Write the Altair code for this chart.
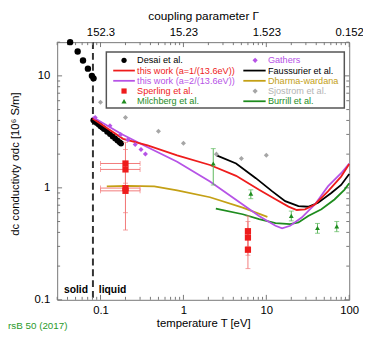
import altair as alt
import pandas as pd
import numpy as np

W, H = 297, 262
TMIN, TMAX = 0.03, 100.0
SMIN, SMAX = 0.1, 20.0
T_MELT = 0.081

# ---------------- data ----------------
desai_T = [0.043, 0.053, 0.0615, 0.0705, 0.0787, 0.0824]
desai_s = [20.0, 16.5, 13.7, 11.6, 10.0, 9.5]
desai_liq_T = [0.082, 0.085, 0.09, 0.095, 0.10, 0.105, 0.11, 0.12, 0.13, 0.14, 0.15, 0.16, 0.17, 0.177]
desai_liq_s = [4.02, 3.93, 3.80, 3.67, 3.55, 3.45, 3.35, 3.17, 3.02, 2.88, 2.76, 2.65, 2.55, 2.49]

gathers_T = [0.0863, 0.130, 0.175, 0.214, 0.262, 0.308, 0.348]
gathers_s = [4.25, 3.58, 2.99, 2.69, 2.44, 2.20, 2.01]

sjostrom_T = [0.1, 0.2, 0.5, 1.0, 2.5, 5.0, 10.0]
sjostrom_s = [5.8, 4.25, 3.2, 2.5, 2.0, 1.83, 1.95]

work1_T = [0.0802, 0.187, 0.370, 0.840, 2.09, 4.32, 8.17, 12.9, 18.5, 23.3, 29.3, 38.5, 55.3, 79.8, 100.0]
work1_s = [4.17, 2.74, 2.39, 1.95, 1.60, 1.28, 0.96, 0.79, 0.68, 0.634, 0.643, 0.711, 0.93, 1.26, 1.63]

work2_T = [0.0802, 0.179, 0.370, 0.840, 2.09, 5.19, 8.17, 12.9, 15.5, 19.4, 26.7, 38.5, 55.3, 79.8, 100.0]
work2_s = [4.30, 3.02, 2.30, 1.71, 1.14, 0.711, 0.561, 0.458, 0.435, 0.458, 0.543, 0.711, 1.03, 1.35, 1.65]

fauss_T = [2.51, 4.32, 7.47, 11.8, 16.9, 24.4, 32.0, 42.1, 60.7, 79.8, 100.0]
fauss_s = [1.95, 1.65, 1.22, 0.93, 0.76, 0.687, 0.678, 0.736, 0.90, 1.06, 1.33]

dharma_T = [0.119, 0.214, 0.445, 0.840, 2.09, 5.19, 10.3]
dharma_s = [1.03, 1.04, 1.03, 0.948, 0.824, 0.665, 0.550]

burrill_T = [2.46, 5.19, 8.17, 12.9, 19.4, 24.4, 32.0, 46.2, 66.4, 87.3, 100.0]
burrill_s = [0.652, 0.581, 0.525, 0.484, 0.474, 0.491, 0.561, 0.643, 0.787, 0.96, 1.10]

milch_T = [2.29, 6.5, 20.0, 41.4, 70.7]
milch_s = [1.65, 0.887, 0.561, 0.438, 0.453]
milch_lo = [1.06, 0.80, 0.507, 0.393, 0.406]
milch_hi = [2.24, 0.96, 0.62, 0.481, 0.501]

sperl_T = [0.2, 0.2, 0.2, 0.2, 6.0, 6.0, 6.0]
sperl_s = [1.65, 1.46, 0.995, 0.94, 0.41, 0.36, 0.28]
sperl_lo = [1.1, 0.95, 0.6, 0.42, 0.30, 0.25, 0.19]
sperl_hi = [2.55, 2.2, 1.5, 1.45, 0.56, 0.50, 0.40]
sperl_Tlo = [0.1, 0.1, 0.1, 0.1, 6.0, 6.0, 6.0]
sperl_Thi = [0.3, 0.3, 0.3, 0.3, 6.0, 6.0, 6.0]

x_major = [0.1, 1, 10, 100]
x_labels = ["0.1", "1", "10", "100"]
gamma_labels = ["152.3", "15.23", "1.523", "0.152"]
x_minor = [0.03, 0.04, 0.05, 0.06, 0.07, 0.08, 0.09,
           0.2, 0.3, 0.4, 0.5, 0.6, 0.7, 0.8, 0.9,
           2, 3, 4, 5, 6, 7, 8, 9,
           20, 30, 40, 50, 60, 70, 80, 90]
y_major = [0.1, 1, 10]
y_labels = ["0.1", "1", "10"]
y_minor = [0.2, 0.3, 0.4, 0.5, 0.6, 0.7, 0.8, 0.9,
           2, 3, 4, 5, 6, 7, 8, 9, 20]
y_title = "dc conductivty σdc [10⁶ S/m]"

leg_labels = ["Desai et al.", "this work (a=1/(13.6eV))", "this work (a=2/(13.6eV))",
              "Sperling et al.", "Milchberg et al.",
              "Gathers", "Faussurier et al.", "Dharma-wardana", "Sjostrom et al.", "Burrill et al."]
leg_kind = ["circle", "line", "line", "square", "triangle-up",
            "diamond", "line", "line", "diamond", "line"]

RED = "#ee1c1c"
PURPLE = "#b653e6"
GOLD = "#c4a015"
GRAY = "#a6a6a6"
GREEN = "#1e8c1e"
BLACK = "#000000"
leg_color = [BLACK, RED, PURPLE, RED, GREEN, PURPLE, BLACK, GOLD, GRAY, GREEN]
leg_tcolor = [BLACK, RED, PURPLE, RED, GREEN, PURPLE, BLACK, GOLD, "#b4b4b4", GREEN]

FONT = "Liberation Sans"

# ---------------- helpers ----------------
LX = np.log10(TMAX / TMIN)
LY = np.log10(SMAX / SMIN)


def px2T(px):
    return float(10 ** (np.log10(TMIN) + px / W * LX))


def py2s(py):
    return float(10 ** (np.log10(SMAX) - py / H * LY))


xs = alt.Scale(type="log", domain=[TMIN, TMAX], nice=False)
ys = alt.Scale(type="log", domain=[SMIN, SMAX], nice=False)


def X(f="T"):
    return alt.X(f"{f}:Q", scale=xs, axis=None)


def Y(f="s"):
    return alt.Y(f"{f}:Q", scale=ys, axis=None)


def line(T, s, color, width=1.8):
    df = pd.DataFrame({"T": T, "s": s})
    return alt.Chart(df).mark_line(color=color, strokeWidth=width).encode(x=X(), y=Y())


def pts(T, s, color, shape, size):
    df = pd.DataFrame({"T": T, "s": s})
    return alt.Chart(df).mark_point(color=color, fill=color, filled=True, shape=shape,
                                    size=size, opacity=1).encode(x=X(), y=Y())


def lab_expr(labels, values):
    return ("[" + ",".join(f"'{l}'" for l in labels) + "][indexof(["
            + ",".join(str(v) for v in values) + "], datum.value)]")


layers = []

# axis carriers (x axes)
bottom_axis = alt.Axis(values=x_major, ticks=False, domain=False, grid=False,
                       labelExpr=lab_expr(x_labels, x_major),
                       title="temperature T [eV]", labelFontSize=11.5, titleFontSize=11.5,
                       labelPadding=5, titlePadding=2, labelFlush=False)
carrier = alt.Chart(pd.DataFrame({"T": [1.0], "s": [1.0]})).mark_point(opacity=0).encode(
    x=alt.X("T:Q", scale=xs, axis=bottom_axis), y=Y())
layers.append(carrier)

top_axis = alt.Axis(orient="top", values=x_major, ticks=False, domain=False, grid=False,
                    labelExpr=lab_expr(gamma_labels, x_major),
                    title="coupling parameter Γ", labelFontSize=11.5, titleFontSize=12,
                    labelPadding=5, titlePadding=4, labelFlush=False)
top = alt.Chart(pd.DataFrame({"T": x_major, "s": [1.0] * 4})).mark_point(opacity=0).encode(
    x=alt.X("T:Q", scale=xs, axis=top_axis), y=Y())
layers.append(top)

# left axis labels and title
ylab = pd.DataFrame({"s": y_major, "lab": y_labels})
layers.append(alt.Chart(ylab).mark_text(align="right", baseline="middle", fontSize=11.5,
                                        font=FONT, color=BLACK).encode(
    y=Y(), x=alt.value(-7), text="lab:N"))
layers.append(alt.Chart(pd.DataFrame({"t": [y_title]})).mark_text(
    align="center", baseline="middle", angle=270, fontSize=11.5, font=FONT, color=BLACK
).encode(x=alt.value(-42), y=alt.value(124), text="t:N"))

# melting line
melt = alt.Chart(pd.DataFrame({"T": [T_MELT]})).mark_rule(
    strokeDash=[7, 4], strokeWidth=2, color="#333333"
).encode(x=X())
layers.append(melt)

# ticks (inward)
TICK = "#777777"
for vals, ln in [(x_major, 5), (x_minor, 3)]:
    d = pd.DataFrame({"T": vals})
    layers.append(alt.Chart(d).mark_rule(color=TICK, strokeWidth=1).encode(
        x=X(), y=alt.value(H), y2=alt.value(H - ln)))
    layers.append(alt.Chart(d).mark_rule(color=TICK, strokeWidth=1).encode(
        x=X(), y=alt.value(0), y2=alt.value(ln)))
for vals, ln in [(y_major, 5), (y_minor, 3)]:
    d = pd.DataFrame({"s": vals})
    layers.append(alt.Chart(d).mark_rule(color=TICK, strokeWidth=1).encode(
        y=Y(), x=alt.value(0), x2=alt.value(ln)))
    layers.append(alt.Chart(d).mark_rule(color=TICK, strokeWidth=1).encode(
        y=Y(), x=alt.value(W), x2=alt.value(W - ln)))

# solid / liquid
sl = pd.DataFrame({"T": [T_MELT]})
layers.append(alt.Chart(sl).mark_text(text="solid", align="right", baseline="middle", dx=-5,
                                      fontSize=10.5, fontWeight="bold", font=FONT).encode(
    x=X(), y=alt.value(252.5)))
layers.append(alt.Chart(sl).mark_text(text="liquid", align="left", baseline="middle", dx=6,
                                      fontSize=10.5, fontWeight="bold", font=FONT).encode(
    x=X(), y=alt.value(252.5)))

# Desai
layers.append(pts(desai_T, desai_s, BLACK, "circle", 42))
layers.append(pts(desai_liq_T, desai_liq_s, BLACK, "circle", 36))

# theory curves
layers.append(line(dharma_T, dharma_s, GOLD))
layers.append(line(burrill_T, burrill_s, GREEN))
layers.append(line(fauss_T, fauss_s, BLACK))
layers.append(line(work2_T, work2_s, PURPLE))
layers.append(line(work1_T, work1_s, RED))

# Sjostrom, Gathers
layers.append(pts(sjostrom_T, sjostrom_s, GRAY, "diamond", 26))
layers.append(pts(gathers_T, gathers_s, PURPLE, "diamond", 26))

# Milchberg with error bars
mil = pd.DataFrame({"T": milch_T, "s": milch_s, "lo": milch_lo, "hi": milch_hi})
layers.append(alt.Chart(mil).mark_rule(color="#5cb85c", strokeWidth=1).encode(
    x=X(), y=Y("lo"), y2="hi:Q"))
for f in ["lo", "hi"]:
    layers.append(alt.Chart(mil).mark_tick(color="#5cb85c", orient="horizontal", size=5,
                                           thickness=1).encode(x=X(), y=Y(f)))
layers.append(pts(milch_T, milch_s, GREEN, "triangle-up", 24))

# Sperling with error bars
sp = pd.DataFrame({"T": sperl_T, "s": sperl_s, "lo": sperl_lo, "hi": sperl_hi,
                   "Tlo": sperl_Tlo, "Thi": sperl_Thi})
ERR = "#f27a7a"
layers.append(alt.Chart(sp).mark_rule(color=ERR, strokeWidth=1).encode(
    x=X(), y=Y("lo"), y2="hi:Q"))
for f in ["lo", "hi"]:
    layers.append(alt.Chart(sp).mark_tick(color=ERR, orient="horizontal", size=5,
                                          thickness=1).encode(x=X(), y=Y(f)))
sph = sp[sp["Tlo"] < sp["Thi"]]
layers.append(alt.Chart(sph).mark_rule(color=ERR, strokeWidth=1).encode(
    x=X("Tlo"), x2="Thi:Q", y=Y()))
for f in ["Tlo", "Thi"]:
    layers.append(alt.Chart(sph).mark_tick(color=ERR, orient="vertical", size=5,
                                           thickness=1).encode(x=X(f), y=Y()))
layers.append(pts(sperl_T, sperl_s, RED, "square", 40))

# ---------------- legend (inside the plot) ----------------
box = pd.DataFrame({"x1": [px2T(50)], "x2": [px2T(292)], "y1": [py2s(10)], "y2": [py2s(67)]})
layers.append(alt.Chart(box).mark_rect(fill="white", stroke="#555555", strokeWidth=1.5).encode(
    x=X("x1"), x2="x2:Q", y=Y("y1"), y2="y2:Q"))

mx = [68, 201.3]
lx1 = [57, 189.3]
lx2 = [79, 212]
tx = [81.3, 214.3]
rows = []
for i, (lab, kind, c, tc) in enumerate(zip(leg_labels, leg_kind, leg_color, leg_tcolor)):
    col, row = divmod(i, 5)
    yy = 18.5 + 10.4 * row
    rows.append({"label": lab, "kind": kind, "c": c, "tc": tc,
                 "mT": px2T(mx[col]), "l1": px2T(lx1[col]), "l2": px2T(lx2[col]),
                 "tT": px2T(tx[col]), "s": py2s(yy)})
leg = pd.DataFrame(rows)
leg_pts = leg[leg["kind"] != "line"]
leg_lines = leg[leg["kind"] == "line"]
layers.append(alt.Chart(leg_lines).mark_rule(strokeWidth=1.8).encode(
    x=X("l1"), x2="l2:Q", y=Y(), color=alt.Color("c:N", scale=None)))
layers.append(alt.Chart(leg_pts).mark_point(filled=True, size=28, opacity=1).encode(
    x=X("mT"), y=Y(), color=alt.Color("c:N", scale=None),
    shape=alt.Shape("kind:N", scale=None)))
layers.append(alt.Chart(leg).mark_text(align="left", baseline="middle", fontSize=9.3,
                                       font=FONT).encode(
    x=X("tT"), y=Y(), text="label:N", color=alt.Color("tc:N", scale=None)))

# journal reference
layers.append(alt.Chart(pd.DataFrame({"t": ["rsB 50 (2017)"]})).mark_text(
    align="left", baseline="middle", fontSize=10, font=FONT, color="#2a9a2a").encode(
    x=alt.value(-50), y=alt.value(289), text="t:N"))

chart = alt.layer(*layers).resolve_axis(x="independent").properties(
    width=W, height=H,
    autosize=alt.AutoSizeParams(type="none"),
    padding={"left": 50, "top": 32, "right": 14, "bottom": 30},
).configure_view(stroke="#777777", strokeWidth=1).configure_axis(
    labelFont=FONT, titleFont=FONT, labelColor="#000000", titleColor="#000000",
    titleFontWeight="normal"
)

chart.save("out.html", embed_options={"renderer": "svg", "actions": False})
